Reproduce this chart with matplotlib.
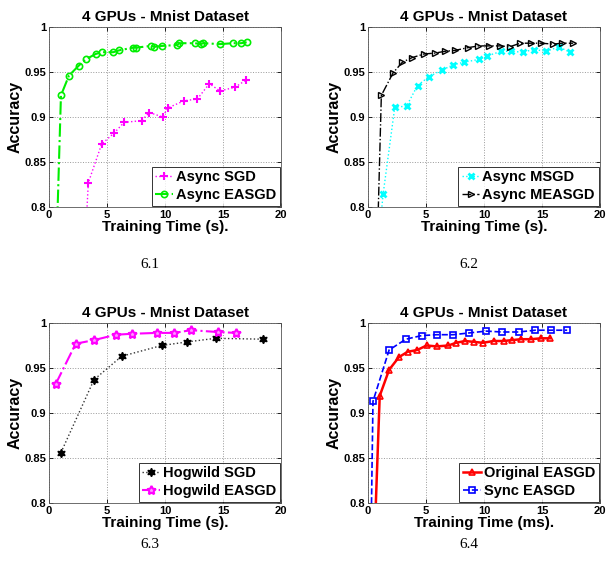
import matplotlib
matplotlib.use("Agg")
import matplotlib.pyplot as plt

plt.rcParams['font.family'] = ['Liberation Sans', 'DejaVu Sans']

# 6.1 - async SGD vs async EASGD
sgd_t = [3.2, 3.39, 4.54, 5.6, 6.47, 7.99, 8.65, 9.8, 10.23, 11.64, 12.79, 13.82, 14.74, 16.03, 16.98]
sgd_acc = [0.78, 0.827, 0.870, 0.882, 0.894, 0.896, 0.905, 0.900, 0.910, 0.918, 0.920, 0.937, 0.929, 0.933, 0.941]
easgd_t = [0.7, 1.03, 1.72, 2.56, 3.16, 4.02, 4.57, 5.55, 6.03, 7.21, 7.47, 8.79, 9.08, 9.77, 11.06, 11.21,
           12.59, 13.07, 13.3, 14.74, 15.89, 16.55, 17.04]
easgd_acc = [0.78, 0.924, 0.946, 0.957, 0.964, 0.970, 0.972, 0.972, 0.974, 0.977, 0.977, 0.979, 0.978, 0.979,
             0.980, 0.982, 0.982, 0.981, 0.982, 0.981, 0.982, 0.982, 0.983]

# 6.2 - momentum versions
msgd_t = [1.05, 1.3, 2.31, 3.32, 4.27, 5.28, 6.35, 7.36, 8.31, 9.58, 10.3, 11.49, 12.35, 13.33, 14.29, 15.38,
          16.45, 17.4]
msgd_acc = [0.78, 0.814, 0.911, 0.912, 0.935, 0.945, 0.952, 0.958, 0.961, 0.964, 0.968, 0.973, 0.973, 0.972,
            0.975, 0.973, 0.978, 0.972]
measgd_t = [0.85, 1.15, 2.16, 2.97, 3.81, 4.82, 5.77, 6.64, 7.5, 8.6, 9.52, 10.39, 11.4, 12.21, 13.13, 14.05,
            14.92, 15.96, 16.74, 17.69]
measgd_acc = [0.78, 0.924, 0.949, 0.961, 0.966, 0.970, 0.971, 0.973, 0.974, 0.977, 0.979, 0.979, 0.979, 0.978,
              0.982, 0.982, 0.982, 0.981, 0.982, 0.982]

# 6.3 - hogwild
hog_sgd_t = [1.03, 3.88, 6.26, 9.71, 11.93, 14.37, 18.48]
hog_sgd_acc = [0.856, 0.937, 0.963, 0.975, 0.979, 0.983, 0.982]
hog_easgd_t = [0.57, 2.3, 3.88, 5.78, 7.13, 9.28, 10.78, 12.24, 14.54, 16.12]
hog_easgd_acc = [0.932, 0.977, 0.981, 0.987, 0.988, 0.989, 0.989, 0.992, 0.990, 0.989]

# 6.4 - original vs sync EASGD
orig_t = [0.62, 1.01, 1.82, 2.66, 3.41, 4.24, 5.05, 5.92, 6.93, 7.59, 8.37, 9.15, 9.9, 10.82, 11.69, 12.44,
          13.19, 14.05, 14.92, 15.67]
orig_acc = [0.78, 0.919, 0.948, 0.962, 0.968, 0.970, 0.975, 0.974, 0.975, 0.978, 0.980, 0.979, 0.978, 0.980,
            0.980, 0.981, 0.982, 0.982, 0.983, 0.983]
sync_t = [0.28, 0.43, 1.82, 3.26, 4.62, 5.92, 7.36, 8.74, 10.19, 11.54, 12.99, 14.43, 15.79, 17.17]
sync_acc = [0.78, 0.913, 0.970, 0.982, 0.986, 0.987, 0.987, 0.989, 0.991, 0.990, 0.990, 0.992, 0.992, 0.992]

yticks = [0.8, 0.85, 0.9, 0.95, 1.0]
ytick_labels = ['0.8', '0.85', '0.9', '0.95', '1']
xticks = [0, 5, 10, 15, 20]

W, H = 607, 573
fig = plt.figure(figsize=(W / 100, H / 100), dpi=100)


def make_axes(left, top, xlabel, caption, cap_off):
    ax = fig.add_axes([left / W, (H - top - 180) / H, 232 / W, 180 / H])
    ax.set_xlim(0, 20)
    ax.set_ylim(0.8, 1.0)
    ax.set_xticks(xticks)
    ax.set_yticks(yticks)
    ax.set_yticklabels(ytick_labels)
    ax.tick_params(direction='in', labelsize=8, length=3, width=0.6, pad=2, top=True, right=True)
    for lbl in ax.get_xticklabels() + ax.get_yticklabels():
        lbl.set_fontweight('bold')
    ax.grid(True, linestyle=':', color='#999999', linewidth=0.7)
    for sp in ax.spines.values():
        sp.set_color('#555555')
        sp.set_linewidth(0.6)
    ax.set_title('4 GPUs - Mnist Dataset', fontsize=11, fontweight='bold', pad=4)
    ax.set_xlabel(xlabel, fontsize=11, fontweight='bold', labelpad=0)
    ax.set_ylabel('Accuracy', fontsize=11.5, fontweight='bold', labelpad=1)
    fig.text((left + 101) / W, 1 - (top + cap_off) / H, caption, ha='center', va='center',
             fontsize=11, family='Liberation Serif')
    return ax


def add_legend(ax):
    leg = ax.legend(loc='lower right', frameon=True, fancybox=False, borderpad=0.25,
                    handlelength=1.2, handletextpad=0.2, labelspacing=0.25, borderaxespad=0.1,
                    prop={'weight': 'bold', 'size': 10.5})
    leg.get_frame().set_edgecolor('black')
    leg.get_frame().set_linewidth(0.7)


ax1 = make_axes(49, 27, 'Training Time (s).', '6.1', 238)
ax1.plot(sgd_t, sgd_acc, color='#ff00ff', linestyle=':', marker='+', markersize=6, mew=1.5, lw=1,
         label='Async SGD')
ax1.plot(easgd_t, easgd_acc, color='#00ee00', linestyle='-.', marker='o', markersize=4.5, mfc='none',
         mew=1.2, lw=1.5, label='Async EASGD')
add_legend(ax1)

ax2 = make_axes(368, 27, 'Training Time (s).', '6.2', 238)
ax2.plot(msgd_t, msgd_acc, color='#00ffff', linestyle=':', marker='x', markersize=4, mew=2, lw=1,
         label='Async MSGD')
ax2.plot(measgd_t, measgd_acc, color='black', linestyle='-.', marker='>', markersize=5, mfc='none',
         mew=1, lw=1, label='Async MEASGD')
add_legend(ax2)

ax3 = make_axes(49, 323, 'Training Time (s).', '6.3', 222)
ax3.plot(hog_sgd_t, hog_sgd_acc, color='#333333', linestyle=':', marker=(6, 1, 0), markersize=6,
         mfc='black', mec='black', lw=1, label='Hogwild SGD')
ax3.plot(hog_easgd_t, hog_easgd_acc, color='#ff00ff', linestyle='-.', marker=(5, 1, 0), markersize=6.5,
         mfc='#ff99ff', mec='#ff00ff', mew=1.5, lw=1.5, label='Hogwild EASGD')
add_legend(ax3)

ax4 = make_axes(368, 323, 'Training Time (ms).', '6.4', 222)
ax4.plot(orig_t, orig_acc, color='red', linestyle='-', marker='^', markersize=5, mfc='none', mew=1.2,
         lw=1.8, label='Original EASGD')
ax4.plot(sync_t, sync_acc, color='blue', linestyle='--', marker='s', markersize=4, mfc='none', mew=1.2,
         lw=1.2, label='Sync EASGD')
add_legend(ax4)

fig.savefig('out.png', dpi=100)
